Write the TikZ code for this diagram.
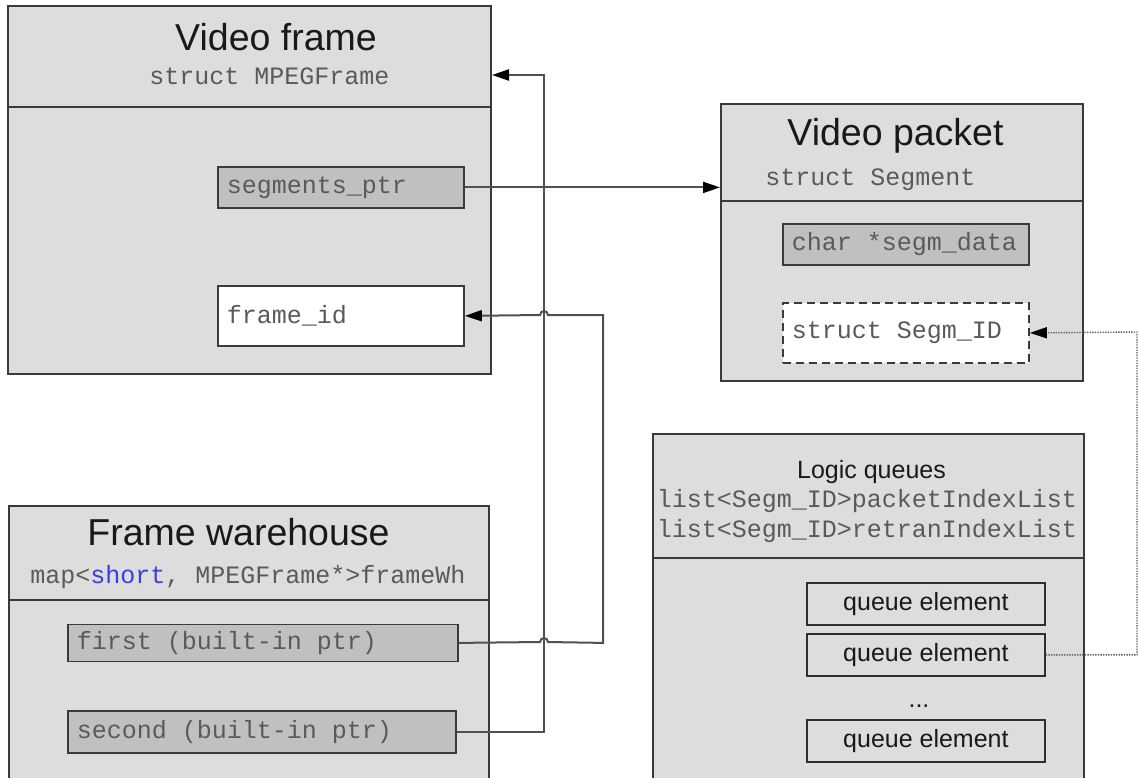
\documentclass[tikz,border=0pt]{standalone}
\usepackage{fontspec}
\setmainfont{Liberation Sans}
\newfontfamily\codefont{Liberation Mono}
\usetikzlibrary{arrows.meta}

\definecolor{boxfill}{HTML}{DDDDDD}
\definecolor{fieldfill}{HTML}{C0C0C0}
\definecolor{edge}{HTML}{3A3A3A}
\definecolor{codegray}{HTML}{5A5A5A}
\definecolor{linegray}{HTML}{505050}
\definecolor{dotgray}{HTML}{606060}
\definecolor{kwblue}{HTML}{3C3CE6}

% left-aligned field contents of a fixed width
\newcommand{\fieldtext}[2]{\makebox[#1][l]{#2}}

\begin{document}
\begin{tikzpicture}[x=1pt,y=-1pt,
  panel/.style={draw=edge, line width=2pt, fill=boxfill, anchor=north west, inner sep=0pt},
  divider/.style={draw=edge, line width=2pt},
  titletext/.style={anchor=base, inner sep=0pt, font=\fontsize{37.5}{45}\selectfont, text=black!90},
  subtext/.style={anchor=base, inner sep=0pt, font=\codefont\fontsize{25}{30}\selectfont, text=codegray},
  field/.style={draw=edge, line width=1.8pt, anchor=north west, inner xsep=9pt, inner ysep=0pt,
    font=\codefont\fontsize{25}{30}\selectfont, text=codegray},
  qelem/.style={draw=edge!80!black, line width=1.8pt, fill=boxfill, anchor=north west, inner sep=0pt,
    minimum width=238pt, minimum height=42pt, font=\fontsize{25}{30}\selectfont, text=black!90},
  conn/.style={draw=linegray, line width=2pt},
  dotconn/.style={draw=dotgray, line width=1.4pt, dash pattern=on 1.4pt off 1.2pt},
  tip/.style={-{Triangle[length=17pt,width=11pt,color=black]}}
]
\useasboundingbox (0,0) rectangle (1139,777);
\fill[white] (0,0) rectangle (1139,777);
\clip (0,0) rectangle (1139,777);

% ---- Video frame ----
\node[panel, minimum width=483pt, minimum height=368pt] (vf) at (7,5) {};
\draw[divider] (7,107) -- (490,107);
\node[titletext] (vftitle) at (276,50) {Video frame};
\node[subtext] (vfsub) at (269.5,84) {struct MPEGFrame};
\node[field, fill=fieldfill, minimum height=41pt] (segp) at (217,166) {\fieldtext{228pt}{segments\_ptr}};
\node[field, fill=white, minimum height=60pt] (fid) at (217,285) {\fieldtext{228pt}{frame\_id}};

% ---- Video packet ----
\node[panel, minimum width=362pt, minimum height=277pt] (vp) at (720,103) {};
\draw[divider] (720,201) -- (1082,201);
\node[titletext] (vptitle) at (895.5,145.5) {Video packet};
\node[subtext] (vpsub) at (870.5,185) {struct Segment};
\node[field, fill=fieldfill, minimum height=41pt] (sdata) at (782,223) {\fieldtext{228pt}{char *segm\_data}};
\node[field, fill=white, dash pattern=on 8pt off 5pt, minimum height=60pt] (sid) at (782,302) {\fieldtext{228pt}{struct Segm\_ID}};

% ---- Frame warehouse ----
\node[panel, minimum width=480pt, minimum height=320pt] (fw) at (8,505) {};
\draw[divider] (8,600) -- (488,600);
\node[titletext] (fwtitle) at (238.5,545) {Frame warehouse};
\node[subtext] (fwsub) at (248,583) {map<\textcolor{kwblue}{short}, MPEGFrame*>frameWh};
\node[field, fill=fieldfill, minimum height=37pt] (first) at (67,623.5) {\fieldtext{372pt}{first (built-in ptr)}};
\node[field, fill=fieldfill, minimum height=42pt] (second) at (67,710) {\fieldtext{370pt}{second (built-in ptr)}};

% ---- Logic queues ----
\node[panel, minimum width=431pt, minimum height=380pt] (lq) at (652,433) {};
\draw[divider] (652,558) -- (1083,558);
\node[anchor=base, inner sep=0pt, font=\fontsize{25}{30}\selectfont, text=black!90] (lqtitle) at (871.5,478) {Logic queues};
\node[subtext] (lqa) at (867,507) {list<Segm\_ID>packetIndexList};
\node[subtext] (lqb) at (867,537) {list<Segm\_ID>retranIndexList};
\node[qelem] (qe1) at (806,582) {queue element};
\node[qelem] (qe2) at (806,633) {queue element};
\node[anchor=base, inner sep=0pt, font=\fontsize{25}{30}\selectfont, text=black!90] (qdots) at (919,707) {...};
\node[qelem] (qe3) at (806,719) {queue element};

% ---- connectors ----
\coordinate (busA) at (544,75);
\coordinate (busB) at (603,315);
\coordinate (busC) at (1137,332);

\draw[conn, tip] (segp.east) -- (vp.west |- segp.east);
\draw[conn, tip] (second.east) -| (busA) -- (vf.east |- busA);
\draw[conn, tip] (first.east) -- (540,642) arc[start angle=180, end angle=360, radius=4]
  -- (busB |- first.east) -- (busB) -- (548,315) arc[start angle=0, end angle=-180, radius=4]
  -- (fid.east);
\draw[dotconn, tip] (qe2.east) -| (busC) -- (sid.east);
\end{tikzpicture}
\end{document}
